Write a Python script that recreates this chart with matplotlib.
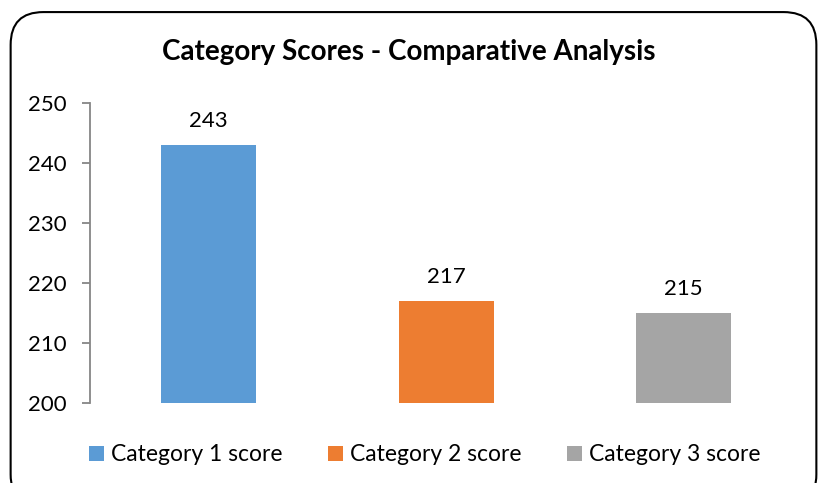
import matplotlib
matplotlib.use("Agg")
import matplotlib.pyplot as plt
from matplotlib.patches import FancyBboxPatch, Patch

categories = ["Category 1 score", "Category 2 score", "Category 3 score"]
values = [243, 217, 215]
colors = ["#5B9BD5", "#ED7D31", "#A5A5A5"]
yticks = [200, 210, 220, 230, 240, 250]
title = "Category Scores - Comparative Analysis"

plt.rcParams['font.family'] = ['Lato', 'DejaVu Sans']

fig = plt.figure(figsize=(8.18, 4.83), dpi=100)
border = FancyBboxPatch((0.013, -0.05), 0.985, 1.025, boxstyle="round,pad=0,rounding_size=0.04",
                        transform=fig.transFigure, facecolor="none", edgecolor="black",
                        linewidth=1.5, mutation_aspect=818/483, zorder=-5)
fig.patches.append(border)

ax = fig.add_axes([0.110, 0.1656, 0.871, 0.6211])
ax.set_facecolor("none")
x = list(range(len(categories)))
bars = ax.bar(x, [v - 200 for v in values], bottom=200, width=0.4, color=colors)
for xi, v in zip(x, values):
    ax.text(xi, v + 2.3, str(v), ha="center", va="bottom", fontsize=16, color="black")

ax.set_xlim(-0.5, 2.5)
ax.set_ylim(200, 250)
ax.set_yticks(yticks)
ax.set_yticklabels([str(t) for t in yticks], fontsize=16)
ax.set_xticks([])
for s in ["top", "right", "bottom"]:
    ax.spines[s].set_visible(False)
ax.spines["left"].set_color("#868686")
ax.spines["left"].set_linewidth(1.3)
ax.tick_params(axis="y", direction="out", length=6, width=1.3, color="#868686", pad=11)

fig.text(0.5, 0.893, title, ha="center", va="center", fontsize=20, fontweight="bold")

handles = [Patch(facecolor=c) for c in colors]
fig.legend(handles, categories, loc="center", bbox_to_anchor=(0.519, 0.058), ncol=3,
           frameon=False, fontsize=16.5, handlelength=0.65, handleheight=0.65,
           handletextpad=0.3, columnspacing=2.0)

fig.savefig("out.png", dpi=100)
